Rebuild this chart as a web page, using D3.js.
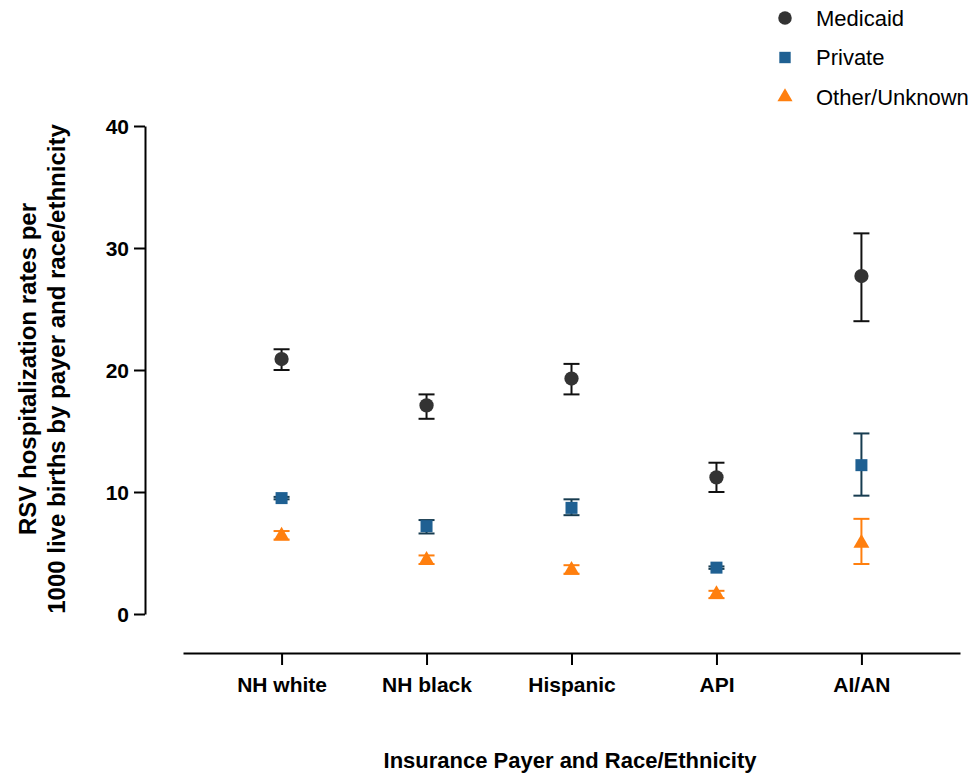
<!DOCTYPE html>
<html>
<head>
<meta charset="utf-8">
<script src="https://cdn.jsdelivr.net/npm/d3@7"></script>
<style>
  body { margin: 0; background: #fff; }
  svg { font-family: Arial, "Liberation Sans", sans-serif; }
  .axis path, .axis line { stroke: #000; stroke-width: 2; }
  .axis text { font-weight: bold; font-size: 21px; fill: #000; }
</style>
</head>
<body>
<svg width="971" height="775"></svg>
<script>
// data
var categories = ["NH white", "NH black", "Hispanic", "API", "AI/AN"];
var medicaid   = [20.9, 17.1, 19.3, 11.2, 27.7];
var medicaidLo = [20.0, 16.0, 18.0, 10.0, 24.0];
var medicaidHi = [21.7, 18.0, 20.5, 12.4, 31.2];
var privateVals = [9.5, 7.2, 8.7, 3.8, 12.2];
var privateLo   = [9.4, 6.6, 8.1, 3.7, 9.7];
var privateHi   = [9.6, 7.7, 9.4, 3.9, 14.8];
var other   = [6.4, 4.4, 3.6, 1.6, 5.8];
var otherLo = [6.1, 4.1, 3.3, 1.3, 4.1];
var otherHi = [6.8, 4.8, 4.0, 1.9, 7.8];
var yTicks = [0, 10, 20, 30, 40];

var series = [
    {name: "Medicaid", vals: medicaid, lo: medicaidLo, hi: medicaidHi, shape: d3.symbolCircle, size: 160, fill: "#333333", bar: "#111111"},
    {name: "Private", vals: privateVals, lo: privateLo, hi: privateHi, shape: d3.symbolSquare, size: 144, fill: "#1f6092", bar: "#173c50"},
    {name: "Other/Unknown", vals: other, lo: otherLo, hi: otherHi, shape: d3.symbolTriangle, size: 110, fill: "#ff7f0e", bar: "#ff7f0e"}
];

var svg = d3.select("svg");

var x = d3.scalePoint().domain(categories).range([183, 960]).padding(0.68);
var y = d3.scaleLinear().domain([0, 40]).range([614, 126]);

// y axis
svg.append("g")
    .attr("class", "axis")
    .attr("transform", "translate(145,0)")
    .call(d3.axisLeft(y).tickValues(yTicks).tickSize(11).tickSizeOuter(0).tickPadding(5))
    .selectAll("text").attr("dy", "0.35em");

// x axis
var xg = svg.append("g")
    .attr("class", "axis")
    .attr("transform", "translate(0,653)")
    .call(d3.axisBottom(x).tickSize(12).tickSizeOuter(0).tickPadding(9));
xg.selectAll("text").attr("dy", "0.85em");

// error bars + markers
var capW = 8;
series.forEach(function (s) {
    var g = svg.append("g");
    categories.forEach(function (c, i) {
        var cx = x(c);
        g.append("line")
            .attr("x1", cx).attr("x2", cx)
            .attr("y1", y(s.lo[i])).attr("y2", y(s.hi[i]))
            .attr("stroke", s.bar).attr("stroke-width", 2);
        [s.lo[i], s.hi[i]].forEach(function (v) {
            g.append("line")
                .attr("x1", cx - capW).attr("x2", cx + capW)
                .attr("y1", y(v)).attr("y2", y(v))
                .attr("stroke", s.bar).attr("stroke-width", 2);
        });
        g.append("path")
            .attr("d", d3.symbol().type(s.shape).size(s.size)())
            .attr("transform", "translate(" + cx + "," + y(s.vals[i]) + ")")
            .attr("fill", s.fill);
    });
});

// axis titles
svg.append("text")
    .attr("transform", "translate(36,369) rotate(-90)")
    .attr("text-anchor", "middle")
    .style("font-weight", "bold").style("font-size", "24px")
    .selectAll("tspan")
    .data(["RSV hospitalization rates per", "1000 live births by payer and race/ethnicity"])
    .enter().append("tspan")
    .attr("x", 0)
    .attr("dy", function (d, i) { return i === 0 ? 0 : 29; })
    .text(function (d) { return d; });

svg.append("text")
    .attr("x", 570).attr("y", 768)
    .attr("text-anchor", "middle")
    .style("font-weight", "bold").style("font-size", "22px")
    .text("Insurance Payer and Race/Ethnicity");

// legend
var legend = svg.append("g").attr("transform", "translate(785,18)");
series.forEach(function (s, i) {
    var row = legend.append("g").attr("transform", "translate(0," + (i * 39.5) + ")");
    row.append("path")
        .attr("d", d3.symbol().type(s.shape).size(s.size * 0.9)())
        .attr("fill", s.fill);
    row.append("text")
        .attr("x", 31).attr("dy", "0.35em")
        .style("font-size", "22px")
        .text(s.name);
});
</script>
</body>
</html>
